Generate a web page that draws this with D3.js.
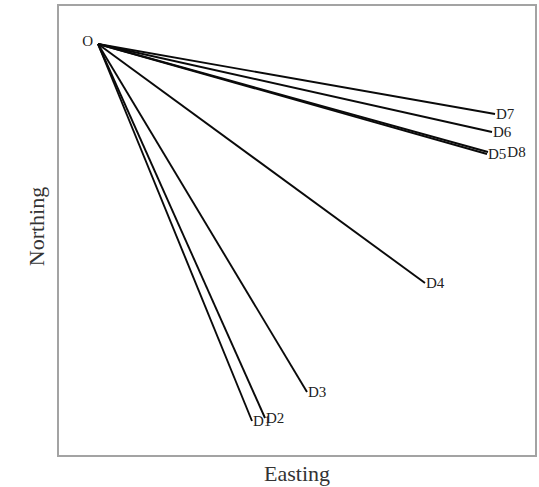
<!DOCTYPE html>
<html>
<head>
<meta charset="utf-8">
<script src="https://cdn.jsdelivr.net/npm/d3@7"></script>
<style>
  html, body { margin: 0; padding: 0; background: #fff; }
  svg { display: block; }
</style>
</head>
<body>
<svg id="chart" width="539" height="487"></svg>
<script>
// Survey traverse: every leg starts at station O (0, 0); coordinates in metres.
const stations = ["D1", "D2", "D3", "D4", "D5", "D6", "D7", "D8"];
const easting  = [154, 167, 209, 327, 389, 394, 397, 390];
const northing = [-377, -374, -348, -239, -110, -88, -70, -108];
const origin = { name: "O", easting: 0, northing: 0 };

const svg = d3.select("#chart");
const frame = { left: 58, top: 5, right: 536, bottom: 456 };

const x = d3.scaleLinear().domain([-40, 438]).range([frame.left, frame.right]);
const y = d3.scaleLinear().domain([-412, 39]).range([frame.bottom, frame.top]);

const serif = "'Liberation Serif', 'DejaVu Serif', serif";

// plot frame
svg.append("rect")
  .attr("x", frame.left).attr("y", frame.top)
  .attr("width", frame.right - frame.left)
  .attr("height", frame.bottom - frame.top)
  .attr("fill", "none")
  .attr("stroke", "#a3a3a3")
  .attr("stroke-width", 2);

const legs = stations.map((s, i) => ({ name: s, easting: easting[i], northing: northing[i] }));

// legs from O to each station
svg.append("g")
  .selectAll("line")
  .data(legs)
  .join("line")
  .attr("x1", x(origin.easting)).attr("y1", y(origin.northing))
  .attr("x2", d => x(d.easting)).attr("y2", d => y(d.northing))
  .attr("stroke", "#0a0a0a")
  .attr("stroke-width", 1.9);

// station labels; a label lying on the same line as an earlier one is pushed to its right
const labelG = svg.append("g")
  .attr("font-family", serif)
  .attr("font-size", 15)
  .attr("fill", "#222");

const placed = [];
legs.forEach(d => {
  let lx = x(d.easting) + 1;
  const ly = y(d.northing) + 1.5;
  const t = labelG.append("text")
    .attr("x", lx).attr("y", ly)
    .attr("dominant-baseline", "middle")
    .text(d.name);
  const w = t.node().getComputedTextLength();
  placed.forEach(p => {
    if (Math.abs(p.y - ly) < 2.5 && lx < p.x + p.w && lx + w > p.x) {
      lx = p.x + p.w + 1;
    }
  });
  t.attr("x", lx);
  placed.push({ x: lx, y: ly, w });
});

labelG.append("text")
  .attr("x", x(origin.easting) - 5)
  .attr("y", y(origin.northing) - 1)
  .attr("text-anchor", "end")
  .attr("dominant-baseline", "middle")
  .text(origin.name);

// axis titles
svg.append("text")
  .attr("x", (frame.left + frame.right) / 2)
  .attr("y", 481)
  .attr("text-anchor", "middle")
  .attr("font-family", serif)
  .attr("font-size", 22)
  .attr("fill", "#333")
  .text("Easting");

svg.append("text")
  .attr("transform", `translate(44, ${(frame.top + frame.bottom) / 2 - 4}) rotate(-90)`)
  .attr("text-anchor", "middle")
  .attr("font-family", serif)
  .attr("font-size", 22)
  .attr("fill", "#333")
  .text("Northing");
</script>
</body>
</html>
